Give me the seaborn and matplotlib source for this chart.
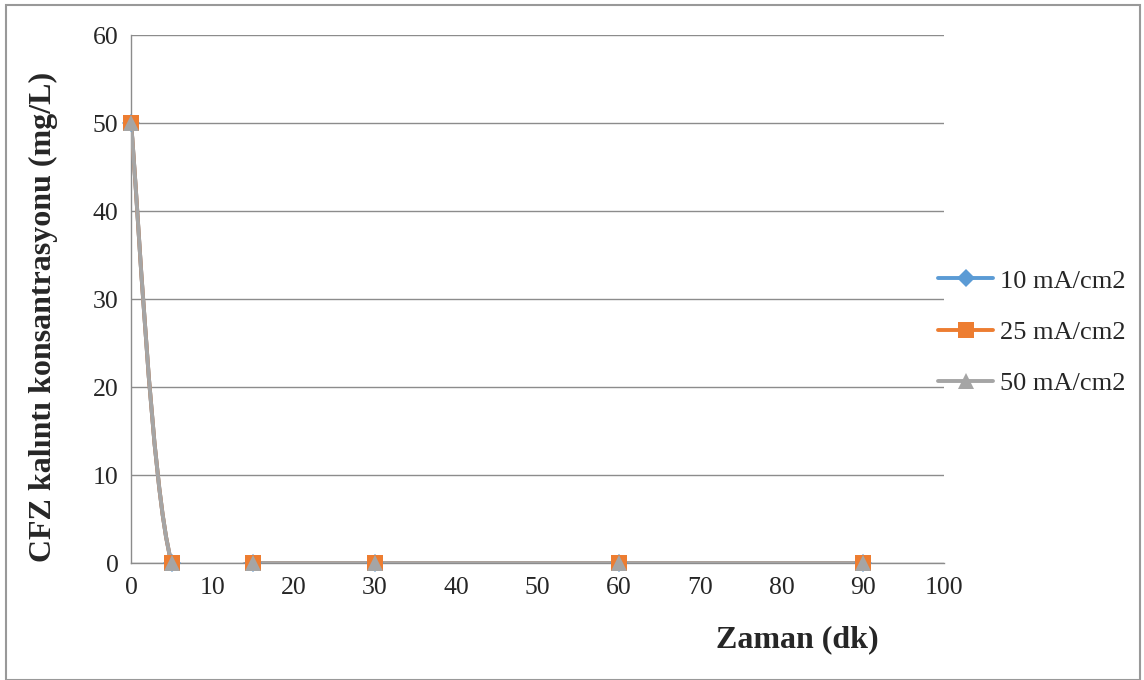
import numpy as np
import matplotlib.pyplot as plt
import seaborn as sns
from matplotlib.path import Path
from matplotlib.patches import PathPatch, Rectangle
from matplotlib.lines import Line2D

# data
zaman = [0, 5, 15, 30, 60, 90]
cfz_10 = [50, 0, 0, 0, 0, 0]
cfz_25 = [50, 0, 0, 0, 0, 0]
cfz_50 = [50, 0, 0, 0, 0, 0]
labels = ['10 mA/cm2', '25 mA/cm2', '50 mA/cm2']
colors = ['#5B9BD5', '#ED7D31', '#A5A5A5']
markers = ['D', 's', '^']


def smooth_path(x, y):
    # Excel-like smoothed line: cubic bezier segments through the points
    pts = np.column_stack([x, y]).astype(float)
    n = len(pts)
    verts = [pts[0]]
    codes = [Path.MOVETO]
    for i in range(n - 1):
        p0 = pts[max(i - 1, 0)]
        p1 = pts[i]
        p2 = pts[i + 1]
        p3 = pts[min(i + 2, n - 1)]
        verts += [p1 + (p2 - p0) / 6, p2 - (p3 - p1) / 6, p2]
        codes += [Path.CURVE4] * 3
    return Path(verts, codes)


sns.set_style('white')
plt.rcParams['font.family'] = ['Liberation Serif', 'DejaVu Serif']

fig = plt.figure(figsize=(11.44, 6.8), dpi=100)
ax = fig.add_axes([0.1145, 0.172, 0.7107, 0.7765])

series = [cfz_10, cfz_25, cfz_50]
handles = []
for vals, lab, col, mk in zip(series, labels, colors, markers):
    ax.add_patch(PathPatch(smooth_path(zaman, vals), facecolor='none',
                           edgecolor=col, lw=2.8, capstyle='round', zorder=3))
    ms = 9 if mk == 'D' else 11
    sns.lineplot(x=zaman, y=vals, ax=ax, color=col, marker=mk, markersize=ms,
                 markeredgewidth=0, linestyle='', zorder=4, clip_on=False)
    handles.append(Line2D([], [], color=col, lw=2.8, marker=mk, markersize=ms,
                          markeredgewidth=0))

ax.set_xlim(0, 100)
ax.set_ylim(0, 60)
ax.set_xticks(range(0, 101, 10))
ax.set_yticks(range(0, 61, 10))
ax.yaxis.grid(True, color='#8c8c8c', lw=1)
ax.xaxis.grid(False)
ax.tick_params(axis='both', labelsize=18.5, length=0)
ax.tick_params(axis='y', pad=9)
ax.tick_params(axis='x', pad=10)
for side in ['top', 'right']:
    ax.spines[side].set_visible(False)
for side in ['left', 'bottom']:
    ax.spines[side].set_color('#8c8c8c')
    ax.spines[side].set_linewidth(1)

ax.set_xlabel('Zaman (dk)', fontsize=23, fontweight='bold')
ax.xaxis.set_label_coords(0.82, -0.117)
ax.set_ylabel('CFZ kalıntı konsantrasyonu (mg/L)', fontsize=23, fontweight='bold')
ax.yaxis.set_label_coords(-0.090, 0.467)

ax.legend(handles, labels, loc='center left', bbox_to_anchor=(0.9926, 0.4375),
          frameon=False, fontsize=19, handlelength=2.1, handletextpad=0.25,
          labelspacing=1.05, borderaxespad=0, borderpad=0)

fig.patches.append(Rectangle((6 / 1144, 0.0), 1134 / 1144, 1 - 5 / 680,
                             transform=fig.transFigure, fill=False,
                             edgecolor='#999999', lw=1.5))

fig.savefig('out.png', dpi=100)
